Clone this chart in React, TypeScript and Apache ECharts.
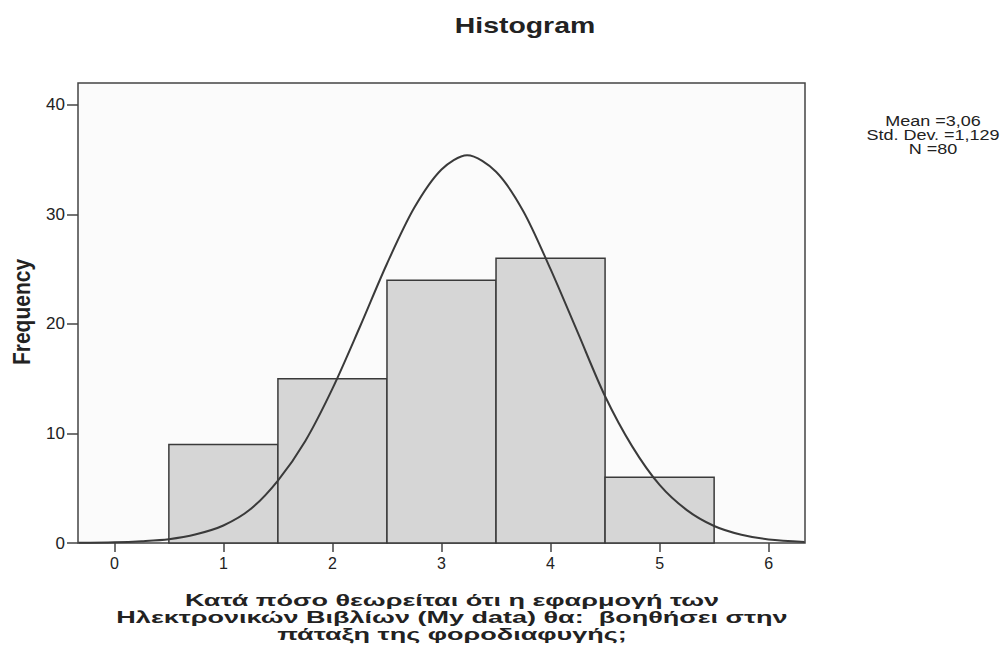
import { useEffect, useRef } from "react";
import * as echarts from "echarts";

// ---- data ----
const binStarts = [0.5, 1.5, 2.5, 3.5, 4.5];
const binEnds = [1.5, 2.5, 3.5, 4.5, 5.5];
const frequencies = [9, 15, 24, 26, 6];

// normal curve
const curveX = [-0.33, 0, 0.25, 0.5, 0.75, 1, 1.25, 1.5, 1.75, 2, 2.25, 2.5, 2.75, 3, 3.235, 3.5, 3.75, 4, 4.25, 4.5, 4.75, 5, 5.25, 5.5, 5.75, 6, 6.33];
const curveY = [0.02, 0.07, 0.17, 0.35, 0.8, 1.6, 3.1, 5.7, 9.3, 14.1, 19.7, 25.5, 30.6, 34.1, 35.4, 33.9, 30.3, 25.0, 19.2, 13.4, 8.8, 5.3, 3.0, 1.55, 0.75, 0.33, 0.1];

const xTicks = [0, 1, 2, 3, 4, 5, 6];
const yTicks = [0, 10, 20, 30, 40];

const titleText = "Histogram";
const yAxisTitle = "Frequency";
const xAxisTitleLines = [
  "Κατά πόσο θεωρείται ότι η εφαρμογή των",
  "Ηλεκτρονικών Βιβλίων (My data) θα:  βοηθήσει στην",
  "πάταξη της φοροδιαφυγής;",
];
const statsLines = ["Mean =3,06", "Std. Dev. =1,129", "N =80"];

const FONT = "'Liberation Sans', Arial, sans-serif";

export default function App() {
  const ref = useRef<HTMLDivElement>(null);

  useEffect(() => {
    if (!ref.current) return;
    const chart = echarts.init(ref.current, null, { renderer: "svg" });

    const barData = binStarts.map((s, i) => [s, binEnds[i], frequencies[i]]);
    const lineData = curveX.map((x, i) => [x, curveY[i]]);

    const graphics: any[] = [];
    graphics.push({
      type: "text",
      x: 525,
      y: 25,
      scaleX: 1.29,
      style: {
        text: titleText,
        font: `bold 22px ${FONT}`,
        fill: "#222",
        textAlign: "center",
        textVerticalAlign: "middle",
      },
    });
    graphics.push({
      type: "text",
      x: 22,
      y: 312,
      rotation: Math.PI / 2,
      scaleY: 1.15,
      style: {
        text: yAxisTitle,
        font: `bold 21px ${FONT}`,
        fill: "#222",
        textAlign: "center",
        textVerticalAlign: "middle",
      },
    });
    xAxisTitleLines.forEach((t, i) => {
      graphics.push({
        type: "text",
        x: 452,
        y: 600 + i * 17,
        scaleX: 1.59,
        style: {
          text: t,
          font: `bold 17px ${FONT}`,
          fill: "#222",
          textAlign: "center",
          textVerticalAlign: "middle",
        },
      });
    });
    statsLines.forEach((t, i) => {
      graphics.push({
        type: "text",
        x: 933,
        y: 121 + i * 14,
        scaleX: 1.2,
        style: {
          text: t,
          font: `15px ${FONT}`,
          fill: "#222",
          textAlign: "center",
          textVerticalAlign: "middle",
        },
      });
    });

    chart.setOption({
      animation: false,
      backgroundColor: "#ffffff",
      grid: {
        left: 78,
        top: 83,
        width: 727,
        height: 460,
        show: true,
        backgroundColor: "#fbfbfb",
        borderColor: "#444",
        borderWidth: 1.5,
      },
      xAxis: {
        type: "value",
        min: -1 / 3,
        max: 19 / 3,
        splitLine: { show: false },
        axisLine: { show: false, onZero: false },
        axisTick: {
          show: true,
          customValues: xTicks,
          length: 9,
          lineStyle: { color: "#444", width: 1.5 },
        },
        axisLabel: {
          customValues: xTicks,
          margin: 12,
          color: "#222",
          fontSize: 16,
          fontFamily: FONT,
        },
      },
      yAxis: {
        type: "value",
        min: 0,
        max: 42,
        splitLine: { show: false },
        axisLine: { show: false, onZero: false },
        axisTick: {
          show: true,
          customValues: yTicks,
          length: 11,
          lineStyle: { color: "#444", width: 1.5 },
        },
        axisLabel: {
          customValues: yTicks,
          margin: 13,
          color: "#222",
          fontSize: 17,
          fontFamily: FONT,
        },
      },
      series: [
        {
          type: "custom",
          data: barData,
          encode: { x: [0, 1], y: 2 },
          renderItem: (params: any, api: any) => {
            const p0 = api.coord([api.value(0), api.value(2)]);
            const p1 = api.coord([api.value(1), 0]);
            return {
              type: "rect",
              shape: { x: p0[0], y: p0[1], width: p1[0] - p0[0], height: p1[1] - p0[1] },
              style: { fill: "#d6d6d6", stroke: "#3a3a3a", lineWidth: 1.5 },
            };
          },
          z: 2,
        },
        {
          type: "line",
          data: lineData,
          smooth: 0.3,
          showSymbol: false,
          symbol: "none",
          lineStyle: { color: "#3a3a3a", width: 2 },
          z: 3,
        },
      ],
      graphic: graphics,
    });

    return () => chart.dispose();
  }, []);

  return (
    <div
      ref={ref}
      style={{ position: "fixed", left: 0, top: 0, width: 1008, height: 655 }}
    />
  );
}
